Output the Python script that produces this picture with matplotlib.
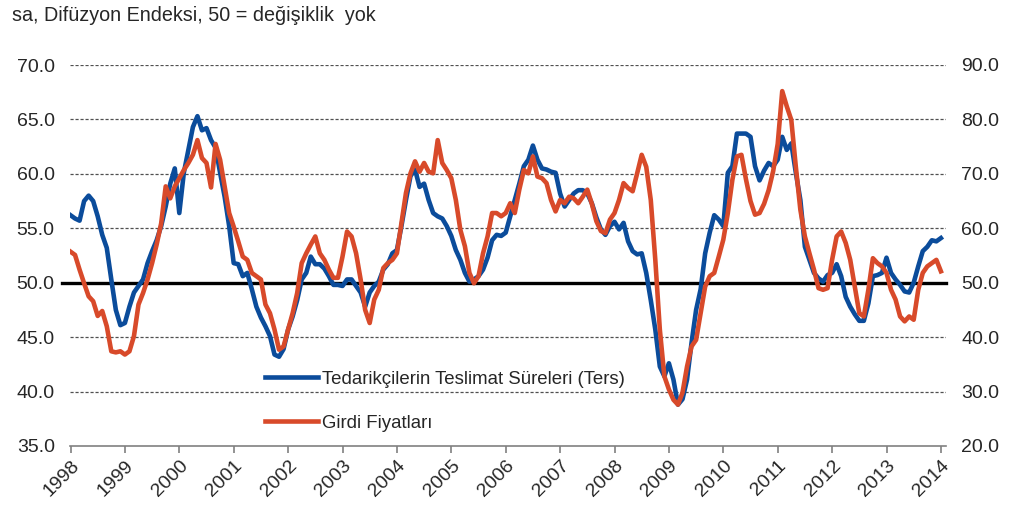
import numpy as np
import pandas as pd
import matplotlib
matplotlib.use("Agg")
import matplotlib.pyplot as plt

plt.rcParams["font.family"] = ["Liberation Sans", "DejaVu Sans"]

TITLE = "sa, Difüzyon Endeksi, 50 = değişiklik  yok"
LABEL_DELIVERY = "Tedarikçilerin Teslimat Süreleri (Ters)"
LABEL_PRICES = "Girdi Fiyatları"

# Monthly values, Jan 1998 - Jan 2014
# supplier delivery times (inverted), left axis
delivery = [
    56.2, 55.9, 55.7, 57.5, 58.0, 57.5, 56.1, 54.4, 53.2, 50.3, 47.5, 46.1,  # 1998
    46.3, 47.8, 49.1, 49.7, 50.3, 51.8, 52.9, 53.9, 55.2, 57.0, 59.1, 60.5,  # 1999
    56.4, 60.1, 62.2, 64.3, 65.3, 64.0, 64.2, 63.1, 62.4, 60.1, 57.9, 55.2,  # 2000
    51.8, 51.7, 50.6, 50.9, 49.4, 47.8, 46.8, 46.0, 45.1, 43.4, 43.2, 43.9,  # 2001
    45.7, 46.9, 48.4, 50.3, 50.9, 52.4, 51.7, 51.7, 51.3, 50.6, 49.8, 49.8,  # 2002
    49.7, 50.3, 50.3, 49.7, 49.1, 47.8, 49.1, 49.7, 50.1, 51.2, 51.7, 52.7,  # 2003
    53.0, 55.2, 57.6, 59.8, 60.4, 58.8, 59.1, 57.6, 56.4, 56.1, 55.9, 55.2,  # 2004
    54.3, 53.0, 52.1, 50.9, 50.1, 50.3, 50.6, 51.2, 52.3, 53.9, 54.4, 54.3,  # 2005
    54.6, 56.1, 57.6, 59.1, 60.7, 61.3, 62.6, 61.3, 60.5, 60.4, 60.2, 60.1,  # 2006
    58.2, 57.0, 57.6, 58.2, 58.5, 58.5, 58.2, 57.3, 56.0, 54.9, 54.4, 55.2,  # 2007
    55.6, 54.9, 55.5, 53.8, 52.9, 52.6, 52.7, 50.9, 48.4, 45.7, 42.3, 41.4,  # 2008
    42.6, 41.1, 38.8, 39.3, 41.1, 44.5, 47.5, 49.4, 52.7, 54.6, 56.2, 55.8,  # 2009
    55.2, 60.1, 60.7, 63.7, 63.7, 63.7, 63.4, 60.7, 59.4, 60.3, 61.0, 60.7,  # 2010
    61.3, 63.4, 62.2, 62.8, 60.1, 57.6, 53.3, 52.1, 50.9, 50.4, 50.1, 50.7,  # 2011
    50.9, 51.7, 50.6, 48.7, 47.8, 47.1, 46.5, 46.5, 48.1, 50.6, 50.7, 50.9,  # 2012
    52.3, 50.9, 50.3, 49.8, 49.2, 49.1, 50.0, 51.5, 52.9, 53.3, 53.9, 53.8,  # 2013
    54.1,                                                                    # 2014
]

# input prices, right axis
prices = [
    55.7, 55.1, 52.4, 49.9, 47.5, 46.6, 43.9, 44.8, 42.0, 37.4, 37.2, 37.4,  # 1998
    36.8, 37.4, 40.2, 46.0, 48.1, 50.6, 53.6, 57.0, 60.9, 67.7, 65.5, 67.7,  # 1999
    69.2, 70.7, 72.0, 73.5, 76.2, 72.9, 72.0, 67.5, 75.5, 72.6, 67.7, 62.8,  # 2000
    60.3, 57.6, 54.8, 54.2, 51.8, 51.2, 50.6, 46.0, 44.4, 41.4, 37.7, 38.3,  # 2001
    41.4, 44.4, 48.1, 53.6, 55.4, 57.0, 58.5, 55.4, 54.2, 52.4, 50.9, 50.9,  # 2002
    54.8, 59.4, 58.5, 55.4, 50.6, 45.0, 42.6, 46.9, 48.7, 52.7, 53.6, 54.2,  # 2003
    55.4, 60.9, 66.5, 70.1, 72.3, 70.4, 72.0, 70.4, 70.1, 76.2, 72.0, 70.7,  # 2004
    69.2, 65.2, 59.7, 56.7, 51.8, 49.9, 51.2, 55.4, 58.5, 62.8, 62.8, 62.2,  # 2005
    62.8, 64.6, 62.8, 67.1, 70.7, 70.1, 73.2, 69.5, 69.2, 68.3, 65.2, 63.1,  # 2006
    65.2, 64.6, 65.8, 65.5, 64.6, 65.8, 67.1, 64.5, 61.3, 59.5, 59.1, 61.6,  # 2007
    62.8, 65.2, 68.3, 67.4, 66.8, 70.1, 73.5, 71.3, 65.2, 54.2, 41.4, 32.8,  # 2008
    30.4, 28.5, 27.6, 29.8, 34.6, 38.3, 39.5, 44.4, 49.3, 51.2, 51.8, 54.8,  # 2009
    57.9, 62.8, 68.9, 73.2, 73.5, 69.0, 65.0, 62.5, 62.8, 64.5, 67.0, 70.5,  # 2010
    75.5, 85.2, 82.4, 79.9, 71.3, 63.4, 58.5, 55.4, 52.4, 49.0, 48.7, 49.0,  # 2011
    54.2, 58.5, 59.4, 57.3, 54.2, 49.3, 44.4, 43.8, 48.7, 54.5, 53.6, 53.0,  # 2012
    51.8, 48.7, 46.9, 43.8, 42.9, 43.8, 43.2, 48.7, 51.8, 53.0, 53.6, 54.2,  # 2013
    52.1,                                                                    # 2014
]

YEARS = list(range(1998, 2015))
LEFT_TICKS = [35, 40, 45, 50, 55, 60, 65, 70]
RIGHT_TICKS = [20, 30, 40, 50, 60, 70, 80, 90]

BLUE = "#0B4C9B"
RED = "#D84A2A"
TEXT = "#262626"

months = pd.date_range("1998-01-01", periods=len(delivery), freq="MS")
x = months.year + (months.month - 1) / 12

fig = plt.figure(figsize=(10.12, 5.13), dpi=100)
ax = fig.add_axes([70 / 1012, 1 - 446 / 513, 876 / 1012, 381 / 513])
ax2 = ax.twinx()

for v in LEFT_TICKS[1:]:
    if v != 50:
        ax.axhline(v, color="#505050", lw=0.9, ls=(0, (2.5, 1.5)), zorder=1)
ax.axhline(50, color="black", lw=2.4, xmin=-0.009, clip_on=False, zorder=2)

l1, = ax.plot(x, delivery, color=BLUE, lw=3.3, solid_joinstyle="round", zorder=3)
l2, = ax2.plot(x, prices, color=RED, lw=3.3, solid_joinstyle="round", zorder=3)

ax.set_xlim(1998 - 0.5 / 54.4, 1998 + 875.5 / 54.4)
ax.set_ylim(35, 70)
ax2.set_ylim(20, 90)

ax.set_yticks(LEFT_TICKS)
ax.set_yticklabels([f"{v:.1f}" for v in LEFT_TICKS])
ax2.set_yticks(RIGHT_TICKS)
ax2.set_yticklabels([f"{v:.1f}" for v in RIGHT_TICKS])
ax.set_xticks(YEARS)
ax.set_xticklabels([str(y) for y in YEARS], rotation=45, ha="right",
                   rotation_mode="anchor")

for a in (ax, ax2):
    for s in a.spines.values():
        s.set_visible(False)
ax.spines["bottom"].set_visible(True)
ax.spines["bottom"].set_color("#808080")
ax.spines["bottom"].set_linewidth(1.2)

ax.tick_params(axis="y", length=0, pad=11, labelsize=14, labelcolor=TEXT)
ax2.tick_params(axis="y", length=0, pad=11, labelsize=14, labelcolor=TEXT)
ax.tick_params(axis="x", length=5, width=1.2, color="#808080", pad=3,
               labelsize=14, labelcolor=TEXT)

ax2.legend([l1, l2], [LABEL_DELIVERY, LABEL_PRICES], loc="upper left",
           bbox_to_anchor=(0.2226, 0.197), frameon=False, fontsize=13.4,
           handlelength=2.85, handletextpad=0.2, labelspacing=1.45,
           borderpad=0, borderaxespad=0, labelcolor=TEXT)

fig.text(12 / 1012, 1 - 21 / 513, TITLE, fontsize=14.2, color=TEXT, va="baseline")

fig.savefig("out.png", dpi=100)
